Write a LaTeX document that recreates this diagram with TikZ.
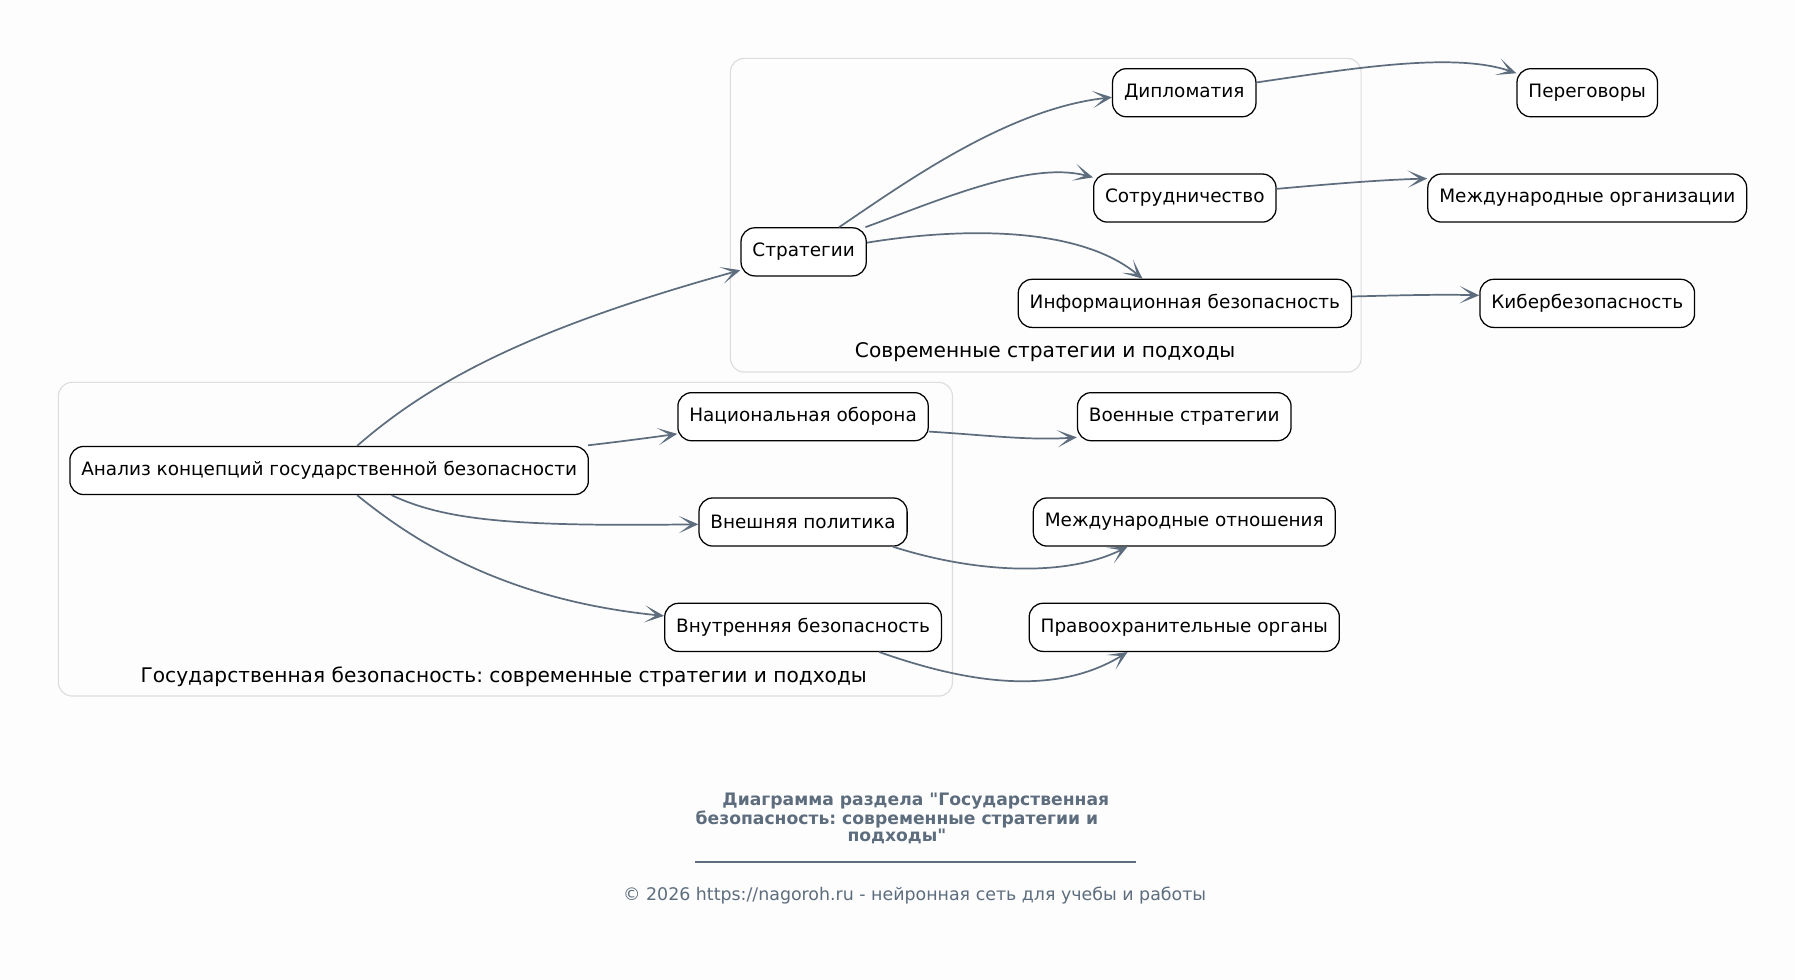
\documentclass[tikz,border=0pt]{standalone}
\usepackage{fontspec}
\setmainfont{DejaVu Sans}[Ligatures=TeXOff]
\usetikzlibrary{arrows.meta,calc}
\definecolor{edgec}{HTML}{5D6D7E}
\definecolor{clusterc}{HTML}{DDDDDD}
\definecolor{bgc}{HTML}{FDFDFD}
\tikzset{
  box/.style={draw=black, line width=0.55pt, fill=white, rounded corners=6pt,
    minimum height=21pt, inner xsep=5pt, inner ysep=0pt,
    font=\fontsize{8.05}{10}\selectfont},
  edge/.style={draw=edgec, line width=0.75pt,
    -{Stealth[length=8.5pt,width=7.5pt,inset=5.2pt]}},
  cluster/.style={draw=clusterc, line width=0.5pt, fill=bgc, rounded corners=6pt},
  clabel/.style={font=\fontsize{8.8}{10}\selectfont, text=black},
  ttl/.style={font=\fontsize{7.5}{9}\selectfont\bfseries, text=edgec},
  foot/.style={font=\fontsize{7.6}{9}\selectfont, text=edgec}
}
\begin{document}
\frenchspacing
\begin{tikzpicture}[x=0.5pt,y=-0.5pt]
\fill[bgc] (0,0) rectangle (1568,856);
\useasboundingbox (0,0) rectangle (1568,856);
% clusters
\draw[cluster] (638,51) rectangle (1189,325);
\draw[cluster] (51,334) rectangle (832,608);
\node[clabel] (cl1) at (913,308) {Современные стратегии и подходы};
\node[clabel] (cl2) at (440,591) {Государственная безопасность: современные стратегии и подходы};
% nodes
\node[box] (anl) at (287.5,411) {Анализ концепций государственной безопасности};
\node[box] (str) at (702,220) {Стратегии};
\node[box] (dip) at (1034.5,81) {Дипломатия};
\node[box] (sot) at (1035,173) {Сотрудничество};
\node[box] (inf) at (1035,265) {Информационная безопасность};
\node[box] (per) at (1386.5,81) {Переговоры};
\node[box] (mor) at (1386.5,173) {Международные организации};
\node[box] (kib) at (1386.5,265) {Кибербезопасность};
\node[box] (nat) at (701.5,364) {Национальная оборона};
\node[box] (vne) at (701.5,456) {Внешняя политика};
\node[box] (vnu) at (701.5,548) {Внутренняя безопасность};
\node[box] (voe) at (1034.5,364) {Военные стратегии};
\node[box] (mot) at (1034.5,456) {Международные отношения};
\node[box] (pra) at (1034.5,548) {Правоохранительные органы};
% edges
\draw[edge] ($(anl.north)+(24.5,0)$) .. controls (380,330) and (470,285) .. ($(str.west)+(0,16)$);
\draw[edge] ($(anl.east)+(-1,-22)$) .. controls (540,386) and (570,382) .. ($(nat.west)+(0,15)$);
\draw[edge] ($(anl.south)+(54.5,0)$) .. controls (390,455) and (450,460) .. ($(vne.west)+(0,2)$);
\draw[edge] ($(anl.south)+(24.5,0)$) .. controls (370,480) and (450,525) .. ($(vnu.west)+(0,-10)$);
\draw[edge] ($(str.north)+(31,0)$) .. controls (790,160) and (880,95) .. ($(dip.west)+(0,4)$);
\draw[edge] ($(str.north)+(54,0)$) .. controls (820,175) and (900,140) .. ($(sot.west)+(0,-18)$);
\draw[edge] ($(str.east)+(0,-8)$) .. controls (830,200) and (940,195) .. ($(inf.north)+(-37,0)$);
\draw[edge] ($(dip.east)+(0,-9)$) .. controls (1180,60) and (1270,45) .. ($(per.west)+(0,-17)$);
\draw[edge] ($(sot.east)+(0,-8)$) .. controls (1170,160) and (1210,157) .. ($(mor.west)+(0,-17)$);
\draw[edge] ($(inf.east)+(0,-6)$) .. controls (1220,258) and (1260,257) .. ($(kib.west)+(0,-7)$);
\draw[edge] ($(nat.east)+(0,13)$) .. controls (860,380) and (900,385) .. ($(voe.west)+(0,18)$);
\draw[edge] ($(vne.south)+(78.5,0)$) .. controls (850,500) and (930,505) .. ($(mot.south)+(-49.5,0)$);
\draw[edge] ($(vnu.south)+(66.5,0)$) .. controls (840,595) and (920,610) .. ($(pra.south)+(-49.5,0)$);
% title and footer
\node[ttl] (t1) at (800,700) {Диаграмма раздела "Государственная};
\node[ttl] (t2) at (783.5,715.5) {безопасность: современные стратегии и};
\node[ttl] (t3) at (783.5,731) {подходы"};
\coordinate (ruleL) at (607,753);
\coordinate (ruleR) at (992,753);
\draw[edgec, line width=0.5pt] (ruleL) -- (ruleR);
\node[foot] (ft) at (799,782) {© 2026 https://nagoroh.ru - нейронная сеть для учебы и работы};
\end{tikzpicture}
\end{document}
